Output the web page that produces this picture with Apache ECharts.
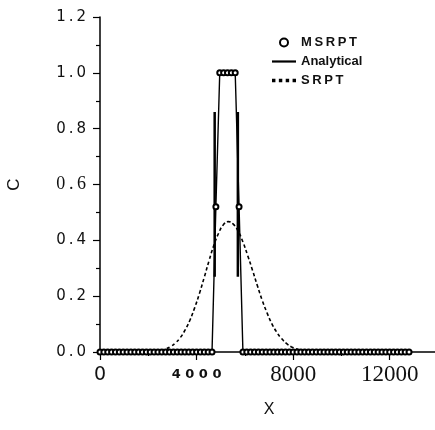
<!DOCTYPE html>
<html lang="en">
<head>
    <meta charset="utf-8">
    <title>C vs X</title>
    <style>
        html, body { margin: 0; padding: 0; background: #fff; }
        #main { width: 435px; height: 430px; }
    </style>
</head>
<body>
<div id="main"></div>
<script type="text/javascript" src="https://cdn.jsdelivr.net/npm/echarts@6.0.0/dist/echarts.min.js"></script>
<script type="text/javascript">
// MSRPT grid points
var msrptX = [0,160,320,480,640,800,960,1120,1280,1440,1600,1760,1920,2080,2240,2400,2560,2720,2880,3040,
    3200,3360,3520,3680,3840,4000,4160,4320,4480,4640,4800,4960,5120,5280,5440,5600,5760,5920,6080,6240,
    6400,6560,6720,6880,7040,7200,7360,7520,7680,7840,8000,8160,8320,8480,8640,8800,8960,9120,9280,9440,
    9600,9760,9920,10080,10240,10400,10560,10720,10880,11040,11200,11360,11520,11680,11840,12000,12160,12320,12480,12640,
    12800];
var msrptC = [0,0,0,0,0,0,0,0,0,0,0,0,0,0,0,0,0,0,0,0,
    0,0,0,0,0,0,0,0,0,0,0.52,1,1,1,1,1,0.52,0,0,0,
    0,0,0,0,0,0,0,0,0,0,0,0,0,0,0,0,0,0,0,0,
    0,0,0,0,0,0,0,0,0,0,0,0,0,0,0,0,0,0,0,0,
    0];
// analytical front (thick vertical parts)
var anaLeftX = [4750, 4750];
var anaRightX = [5710, 5710];
var anaC = [0.27, 0.86];
// SRPT curve
var srptX = [2520,2720,2920,3120,3320,3520,3720,3920,4120,4320,4520,4720,4920,5120,5320,
    5520,5720,5920,6120,6320,6520,6720,6920,7120,7320,7520,7720,7920,8120,8320];
var srptC = [0.006,0.011,0.019,0.032,0.051,0.078,0.113,0.158,0.210,0.268,0.328,0.383,0.427,0.457,0.467,
    0.458,0.433,0.394,0.345,0.292,0.237,0.185,0.140,0.101,0.071,0.048,0.031,0.019,0.012,0.007];

function pairs(xs, ys) {
    var out = [];
    for (var i = 0; i < xs.length; i++) out.push([xs[i], ys[i]]);
    return out;
}
function spaced(s, sep) {
    return s.split('').join(sep || '\u2009');
}

var myChart = echarts.init(document.getElementById('main'));
var sans = 'Liberation Sans, Arial, sans-serif';
var wide = 'DejaVu Sans, sans-serif';
var serif = 'Liberation Serif, Times New Roman, serif';

var option = {
    animation: false,
    backgroundColor: '#fff',
    grid: { left: 100, right: -3, top: 17, bottom: 78, outerBoundsMode: 'none' },
    legend: {
        orient: 'vertical',
        left: 267,
        top: 31,
        itemWidth: 24,
        itemHeight: 8,
        itemGap: 6,
        textStyle: { color: '#111', fontFamily: sans, fontWeight: 'bold', fontSize: 13 },
        formatter: function (name) { return name == 'Analytical' ? name : spaced(name); },
        data: [
            { name: 'MSRPT', icon: 'emptyCircle', itemStyle: { color: '#000', borderColor: '#000', borderWidth: 2 } },
            { name: 'Analytical', icon: 'path://M0,0H24V2.2H0Z', itemStyle: { color: '#000' } },
            { name: 'SRPT', icon: 'path://M0,0h3v3h-3zM6,0h3v3h-3zM12,0h3v3h-3zM18,0h3v3h-3z', itemStyle: { color: '#000' } }
        ]
    },
    xAxis: {
        type: 'value',
        min: 0, max: 14000, interval: 4000,
        name: 'X', nameLocation: 'middle', nameGap: 50,
        nameTextStyle: { color: '#111', fontFamily: sans, fontSize: 16 },
        axisLine: { onZero: false, lineStyle: { color: '#000', width: 1.5 } },
        axisTick: { show: true, length: 8, lineStyle: { color: '#000', width: 1.2 } },
        minorTick: { show: true, splitNumber: 2, length: 4, lineStyle: { color: '#000', width: 1.2 } },
        splitLine: { show: false },
        axisLabel: {
            margin: 11,
            formatter: function (v) {
                if (v == 0) return '{z|0}';
                if (v == 4000) return '{b|4 0 0 0}';
                return '{s|' + v + '}';
            },
            rich: {
                z: { fontFamily: wide, fontSize: 19, color: '#111', lineHeight: 24 },
                b: { fontFamily: wide, fontSize: 13, fontWeight: 'bold', color: '#111', lineHeight: 24 },
                s: { fontFamily: serif, fontSize: 23, color: '#111', lineHeight: 24 }
            }
        }
    },
    yAxis: {
        type: 'value',
        min: 0, max: 1.2, interval: 0.2,
        name: 'C', nameLocation: 'middle', nameGap: 77, nameRotate: 90,
        nameTextStyle: { color: '#111', fontFamily: sans, fontSize: 17 },
        axisLine: { show: true, lineStyle: { color: '#000', width: 1.5 } },
        axisTick: { show: true, length: 7, lineStyle: { color: '#000', width: 1.2 } },
        minorTick: { show: true, splitNumber: 2, length: 4, lineStyle: { color: '#000', width: 1.2 } },
        splitLine: { show: false },
        axisLabel: {
            margin: 14,
            formatter: function (v) {
                var t = v.toFixed(1);
                if (t == '0.6') return '{s|' + spaced(t) + '}';
                return '{a|' + spaced(t) + '}';
            },
            rich: {
                a: { fontFamily: wide, fontSize: 15, color: '#111' },
                s: { fontFamily: serif, fontSize: 18, color: '#111' }
            }
        }
    },
    series: [
        {
            name: 'SRPT',
            type: 'line',
            smooth: true,
            symbol: 'none',
            data: pairs(srptX, srptC),
            lineStyle: { color: '#000', width: 1.6, type: [3.5, 2.5] },
            itemStyle: { color: '#000' },
            z: 1
        },
        {
            name: 'Analytical',
            type: 'line',
            symbol: 'none',
            data: pairs(anaLeftX, anaC),
            lineStyle: { color: '#000', width: 2.5 },
            itemStyle: { color: '#000' },
            z: 2
        },
        {
            name: 'Analytical',
            type: 'line',
            symbol: 'none',
            data: pairs(anaRightX, anaC),
            lineStyle: { color: '#000', width: 2.5 },
            itemStyle: { color: '#000' },
            z: 2
        },
        {
            name: 'MSRPT',
            type: 'line',
            symbol: 'emptyCircle',
            symbolSize: 5,
            showAllSymbol: true,
            data: pairs(msrptX, msrptC),
            lineStyle: { color: '#000', width: 1.4 },
            itemStyle: { color: '#000', borderWidth: 2 },
            z: 3
        }
    ]
};
myChart.setOption(option);
</script>
</body>
</html>
